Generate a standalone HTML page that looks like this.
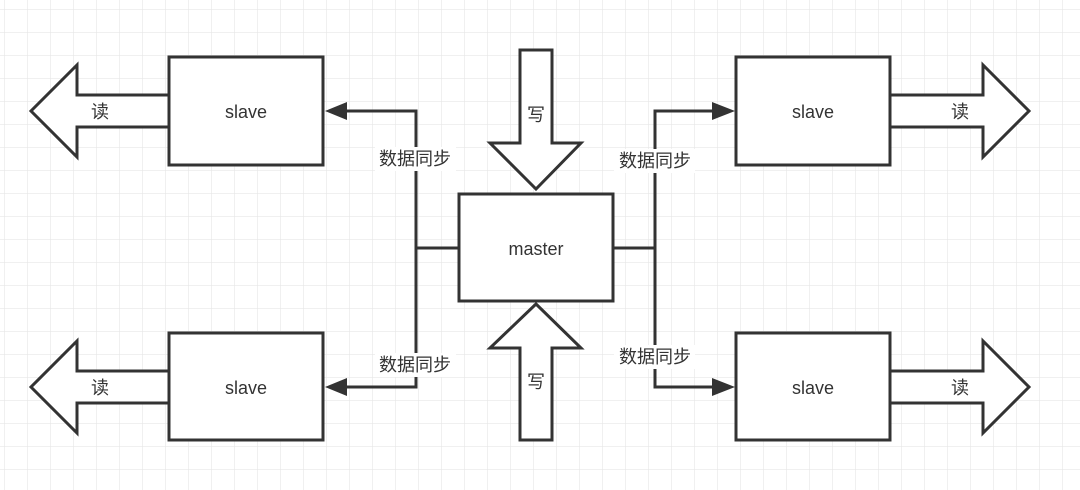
<!DOCTYPE html>
<html><head><meta charset="utf-8"><style>
html,body{margin:0;padding:0;background:#fff;}
svg{display:block;}
text{font-family:"Liberation Sans","Noto Sans CJK SC",sans-serif;fill:#333;}
</style></head><body>
<svg width="1080" height="490" viewBox="0 0 1080 490" xmlns="http://www.w3.org/2000/svg">
<defs>
<pattern id="g" x="4" y="9" width="23" height="23" patternUnits="userSpaceOnUse">
<path d="M0 0H23M0 0V23" stroke="#e6e6e6" stroke-width="1.2" fill="none"/>
</pattern>
<marker id="ah" markerWidth="10" markerHeight="10" refX="9" refY="5" orient="auto" markerUnits="userSpaceOnUse" viewBox="0 0 10 10">
</marker>
</defs>
<rect width="1080" height="490" fill="url(#g)"/>
<g stroke="#333" stroke-width="3" fill="#fff" stroke-linejoin="miter">
<!-- read arrows left -->
<polygon points="169,95 77,95 77,65 31,111 77,157 77,127 169,127"/>
<polygon points="169,371 77,371 77,341 31,387 77,433 77,403 169,403"/>
<!-- read arrows right -->
<polygon points="890,95 983,95 983,65 1029,111 983,157 983,127 890,127"/>
<polygon points="890,371 983,371 983,341 1029,387 983,433 983,403 890,403"/>
<!-- write arrows -->
<polygon points="520,50 552,50 552,143 581,143 536,189 490,143 520,143"/>
<polygon points="520,440 552,440 552,348 581,348 536,304 490,348 520,348"/>
<!-- boxes -->
<rect x="169" y="57" width="154" height="108"/>
<rect x="169" y="333" width="154" height="107"/>
<rect x="736" y="57" width="154" height="108"/>
<rect x="736" y="333" width="154" height="107"/>
<rect x="459" y="194" width="154" height="107"/>
</g>
<g stroke="#333" stroke-width="3" fill="none">
<polyline points="459,248 416,248"/>
<polyline points="344,111 416,111 416,387 344,387"/>
<polyline points="613,248 655,248"/>
<polyline points="714,111 655,111 655,387 714,387"/>
</g>
<g fill="#333">
<polygon points="325,111 347,102 347,120"/>
<polygon points="325,387 347,378 347,396"/>
<polygon points="735,111 712,102 712,120"/>
<polygon points="735,387 712,378 712,396"/>
</g>
<!-- label backgrounds -->
<g fill="#fff">
<rect x="375" y="147" width="81" height="24"/>
<rect x="375" y="353" width="81" height="24"/>
<rect x="614" y="149" width="81" height="24"/>
<rect x="614" y="345" width="81" height="24"/>
</g>
<g font-size="18" text-anchor="middle">
<text x="246" y="118">slave</text>
<text x="246" y="394">slave</text>
<text x="813" y="118">slave</text>
<text x="813" y="394">slave</text>
<text x="536" y="255">master</text>
<text x="100" y="118">读</text>
<text x="100" y="394">读</text>
<text x="960" y="118">读</text>
<text x="960" y="394">读</text>
<text x="536" y="121">写</text>
<text x="536" y="388">写</text>
<text x="415" y="165">数据同步</text>
<text x="415" y="371">数据同步</text>
<text x="655" y="167">数据同步</text>
<text x="655" y="363">数据同步</text>
</g>
</svg>
</body></html>
